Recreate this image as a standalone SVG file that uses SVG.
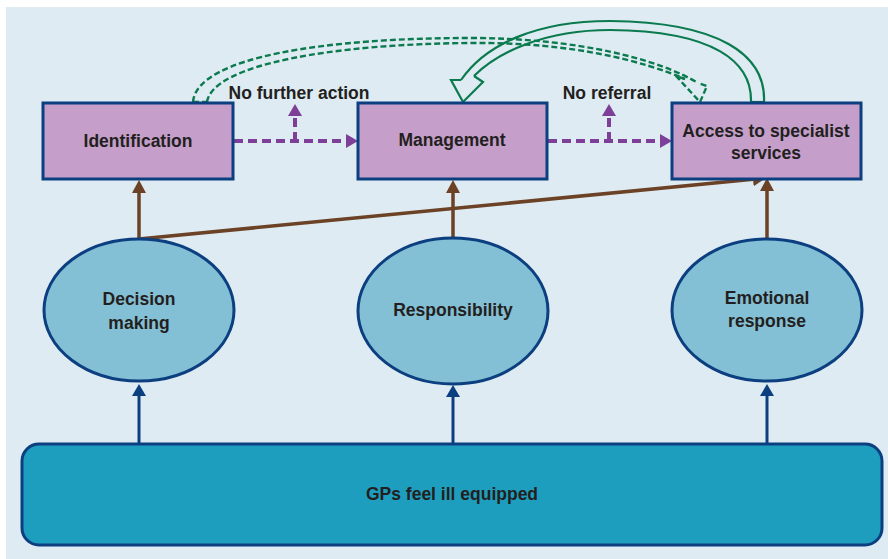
<svg xmlns="http://www.w3.org/2000/svg" width="888" height="559" viewBox="0 0 888 559">
<style>
.box{fill:#c59fca;stroke:#0c3f80;stroke-width:3}
.ell{fill:#83bfd5;stroke:#0c3f80;stroke-width:3}
.base{fill:#1e9ebf;stroke:#0c3f80;stroke-width:3}
.t{font-family:"Liberation Sans",Arial,sans-serif;font-weight:bold;font-size:17.5px;fill:#231f20;text-anchor:middle}
.pur{stroke:#7d3f98;stroke-width:4;stroke-dasharray:9 5;fill:none}
.brn{stroke:#6b4226;stroke-width:3.5;fill:none}
.blu{stroke:#0c3f80;stroke-width:3;fill:none}
.g1{stroke:#0b7a4e;stroke-width:2.4;stroke-dasharray:6 3;fill:none}
.g2{stroke:#0b7a4e;stroke-width:2.2;fill:none}
</style>
<defs>
<marker id="mb" viewBox="0 0 13 14" refX="0" refY="7" markerWidth="13" markerHeight="14" markerUnits="userSpaceOnUse" orient="auto"><path d="M0,0 L13,7 L0,14 z" fill="#6b4226"/></marker>
<marker id="mu" viewBox="0 0 12 14" refX="0" refY="7" markerWidth="12" markerHeight="14" markerUnits="userSpaceOnUse" orient="auto"><path d="M0,0 L12,7 L0,14 z" fill="#0c3f80"/></marker>
<marker id="mp" viewBox="0 0 12 14" refX="0" refY="7" markerWidth="12" markerHeight="14" markerUnits="userSpaceOnUse" orient="auto"><path d="M0,0 L12,7 L0,14 z" fill="#7d3f98"/></marker>
</defs>
<rect x="6" y="7" width="882" height="552" fill="#deebf2"/>

<g id="connectors">
<line class="pur" x1="234" y1="141" x2="346" y2="141" marker-end="url(#mp)"/>
<line class="pur" x1="295" y1="141" x2="295" y2="116" marker-end="url(#mp)"/>
<line class="pur" x1="548" y1="141" x2="660" y2="141" marker-end="url(#mp)"/>
<line class="pur" x1="609" y1="141" x2="609" y2="116" marker-end="url(#mp)"/>

<line class="brn" x1="139" y1="239" x2="139" y2="193" marker-end="url(#mb)"/>
<line class="brn" x1="453" y1="238" x2="453" y2="193" marker-end="url(#mb)"/>
<line class="brn" x1="767" y1="238" x2="767" y2="191" marker-end="url(#mb)"/>
<line class="brn" x1="139" y1="239" x2="753" y2="179.3" marker-end="url(#mb)"/>

<line class="blu" x1="139" y1="444" x2="139" y2="396" marker-end="url(#mu)"/>
<line class="blu" x1="453" y1="444" x2="453" y2="397" marker-end="url(#mu)"/>
<line class="blu" x1="767" y1="444" x2="767" y2="396" marker-end="url(#mu)"/>

<g id="loop-dashed">
<path class="g1" d="M193,102 C197,56 330,38 470,38 C580,38 660,60 698,83"/>
<path class="g1" d="M207,102 C213,64 335,44 470,43 C575,42 645,62 685,79"/>
<path class="g1" d="M685,79 L676,76 L700,102 L707,86 L698,83"/>
<path class="g1" d="M193,102 L207,102"/>
</g>
<g id="loop-solid">
<path class="g2" d="M764,102 C766,55 720,22 610,21 C535,21 485,45 461,80"/>
<path class="g2" d="M751,102 C752,62 715,31 610,30 C545,30 498,52 474,76"/>
<path class="g2" d="M461,80 L451,80 L463,102 L483,82 L474,76"/>
<path class="g2" d="M751,102 L764,102"/>
</g>
</g>

<text class="t" x="299" y="99">No further action</text>
<text class="t" x="607" y="99">No referral</text>

<g id="identification"><rect class="box" x="43" y="103" width="190" height="76"/><text class="t" x="138" y="147">Identification</text></g>
<g id="management"><rect class="box" x="358" y="103" width="189" height="76"/><text class="t" x="452" y="146">Management</text></g>
<g id="access"><rect class="box" x="672" y="103" width="189" height="76"/><text class="t" x="766" y="137">Access to specialist</text><text class="t" x="766" y="159">services</text></g>

<g id="decision"><ellipse class="ell" cx="139" cy="310" rx="95" ry="71"/><text class="t" x="139" y="305">Decision</text><text class="t" x="139" y="329">making</text></g>
<g id="responsibility"><ellipse class="ell" cx="453" cy="311" rx="95" ry="73"/><text class="t" x="453" y="316">Responsibility</text></g>
<g id="emotional"><ellipse class="ell" cx="767" cy="310" rx="95" ry="71"/><text class="t" x="767" y="304">Emotional</text><text class="t" x="767" y="327">response</text></g>

<g id="gps"><rect class="base" x="22" y="444" width="860" height="101" rx="17"/><text class="t" x="452" y="500">GPs feel ill equipped</text></g>
</svg>
